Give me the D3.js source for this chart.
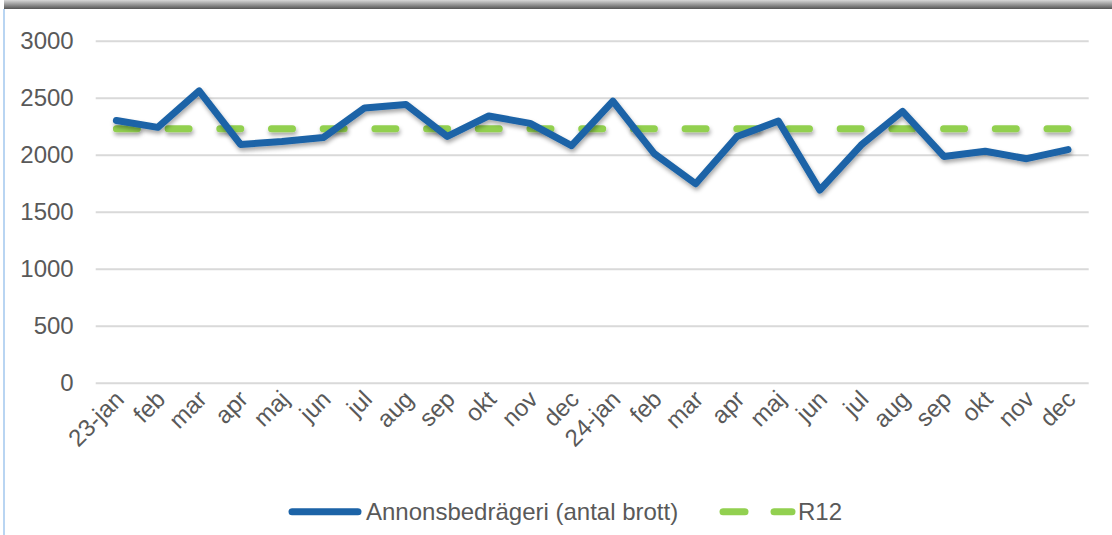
<!DOCTYPE html>
<html>
<head>
<meta charset="utf-8">
<script src="https://cdn.jsdelivr.net/npm/d3@7"></script>
<style>
  body { margin: 0; background: #fff; }
  svg { display: block; font-family: "Liberation Sans", Arial, sans-serif; }
</style>
</head>
<body>
<div class="line-chart"></div>
<script>
// months on the x axis
const months = ['23-jan', 'feb', 'mar', 'apr', 'maj', 'jun', 'jul', 'aug', 'sep', 'okt', 'nov', 'dec',
  '24-jan', 'feb', 'mar', 'apr', 'maj', 'jun', 'jul', 'aug', 'sep', 'okt', 'nov', 'dec'];

// Annonsbedrägeri (antal brott)
const brott = [2300, 2240, 2560, 2090, 2115, 2150, 2410, 2440, 2160, 2340, 2275, 2080,
  2470, 2010, 1745, 2160, 2295, 1690, 2085, 2380, 1985, 2030, 1965, 2045];

// R12, flat over the whole period
const r12 = months.map(() => 2228);

const yTicks = [0, 500, 1000, 1500, 2000, 2500, 3000];

const blue = '#1c63a7';
const green = '#92d050';
const textColor = '#595959';
const fontSize = 24;

const W = 1112, H = 535;
const margin = { top: 40.7, right: 23.3, bottom: 152.3, left: 95.7 };
const graph_w = W - margin.left - margin.right;
const graph_h = H - margin.top - margin.bottom;

const svg = d3.select('.line-chart').append('svg').attr('width', W).attr('height', H);

const defs = svg.append('defs');
// dark bar across the top
const grad = defs.append('linearGradient').attr('id', 'topbar').attr('x1', 0).attr('y1', 0).attr('x2', 0).attr('y2', 1);
grad.append('stop').attr('offset', '0%').attr('stop-color', '#d8d8d8');
grad.append('stop').attr('offset', '100%').attr('stop-color', '#555');
// soft shadow under the lines (user space, the R12 path has no height)
const shadow = defs.append('filter').attr('id', 'shadow').attr('filterUnits', 'userSpaceOnUse')
  .attr('x', -20).attr('y', -20).attr('width', W).attr('height', H);
shadow.append('feDropShadow').attr('dx', 1).attr('dy', 3).attr('stdDeviation', 2)
  .attr('flood-color', '#000').attr('flood-opacity', 0.35);

svg.append('rect').attr('x', 4).attr('y', 0).attr('width', W - 4).attr('height', 9).attr('fill', 'url(#topbar)');
svg.append('rect').attr('x', 3).attr('y', 9).attr('width', 2).attr('height', H - 9).attr('fill', '#b9d5f2');

const graph = svg.append('g').attr('transform', `translate(${margin.left}, ${margin.top})`);

// scales
const x = d3.scaleBand().domain(d3.range(months.length)).range([0, graph_w]);
const y = d3.scaleLinear().domain([0, 3000]).range([graph_h, 0]);
const cx = i => x(i) + x.bandwidth() / 2;

// grid + y labels
const y_axis = d3.axisLeft(y).tickValues(yTicks).tickSize(-graph_w).tickPadding(22).tickFormat(d => d);
const y_axis_group = graph.append('g').attr('class', 'y-axis').call(y_axis);
y_axis_group.select('.domain').remove();
y_axis_group.selectAll('line').attr('stroke', '#d9d9d9').attr('stroke-width', 2);
y_axis_group.selectAll('text').attr('fill', textColor).attr('font-size', fontSize);

// x labels
const x_axis = d3.axisBottom(x).tickSize(0).tickFormat(i => months[i]);
const x_axis_group = graph.append('g').attr('class', 'x-axis')
  .attr('transform', 'translate(0, ' + graph_h + ')').call(x_axis);
x_axis_group.select('.domain').remove();
x_axis_group.selectAll('text')
  .attr('fill', textColor).attr('font-size', fontSize)
  .attr('dy', 0).attr('y', 0)
  .attr('transform', 'translate(9, 18) rotate(-45)')
  .attr('text-anchor', 'end');

// lines
const line = d3.line().x((d, i) => cx(i)).y(d => y(d));

graph.append('path').datum(r12)
  .attr('fill', 'none').attr('stroke', green).attr('stroke-width', 7)
  .attr('stroke-linecap', 'round').attr('stroke-dasharray', '21,30.7')
  .attr('filter', 'url(#shadow)')
  .attr('d', line);

graph.append('path').datum(brott)
  .attr('fill', 'none').attr('stroke', blue).attr('stroke-width', 7)
  .attr('stroke-linejoin', 'round').attr('stroke-linecap', 'round')
  .attr('filter', 'url(#shadow)')
  .attr('d', line);

// legend
const legend = svg.append('g').attr('class', 'legend');
const ly = 511.8;
legend.append('line').attr('x1', 292).attr('x2', 358).attr('y1', ly).attr('y2', ly)
  .attr('stroke', blue).attr('stroke-width', 7).attr('stroke-linecap', 'round');
legend.append('text').attr('x', 366).attr('y', ly + 8.5).attr('fill', textColor).attr('font-size', fontSize)
  .text('Annonsbedrägeri (antal brott)');
legend.append('line').attr('x1', 723).attr('x2', 745).attr('y1', ly).attr('y2', ly)
  .attr('stroke', green).attr('stroke-width', 7).attr('stroke-linecap', 'round');
legend.append('line').attr('x1', 774).attr('x2', 792).attr('y1', ly).attr('y2', ly)
  .attr('stroke', green).attr('stroke-width', 7).attr('stroke-linecap', 'round');
legend.append('text').attr('x', 798).attr('y', ly + 8.5).attr('fill', textColor).attr('font-size', fontSize)
  .text('R12');
</script>
</body>
</html>
